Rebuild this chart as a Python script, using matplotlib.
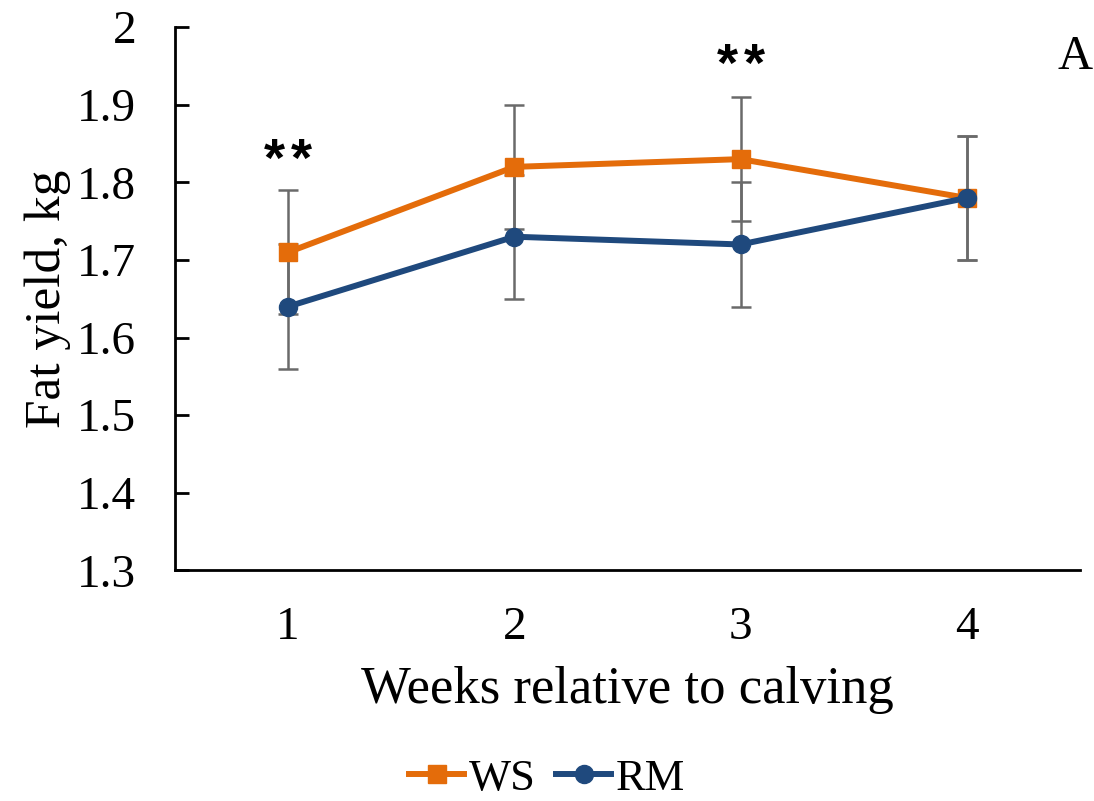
import numpy as np
import matplotlib
matplotlib.use("Agg")
import matplotlib.pyplot as plt

#-------------------------------------------------------------
# data
#-------------------------------------------------------------
weeks = [1, 2, 3, 4]
ws_fat = [1.71, 1.82, 1.83, 1.78]
ws_err = [0.08, 0.08, 0.08, 0.08]
rm_fat = [1.64, 1.73, 1.72, 1.78]
rm_err = [0.08, 0.08, 0.08, 0.08]
y_ticks = [1.3, 1.4, 1.5, 1.6, 1.7, 1.8, 1.9, 2.0]
y_labels = ["1.3", "1.4", "1.5", "1.6", "1.7", "1.8", "1.9", "2"]
signif = [(1, 1.826, "**"), (3, 1.949, "**")]

plt.rcParams["font.family"] = ["Liberation Serif", "DejaVu Serif"]

orange = "#E46C0A"
blue = "#1F497D"
grey = "#6A6A6A"

fig = plt.figure(figsize=(10.94, 8.01), dpi=100)
ax = fig.add_axes([0.16, 0.288, 0.827, 0.678])

ax.errorbar(weeks, ws_fat, yerr=ws_err, fmt="none", ecolor=grey,
            elinewidth=1.8, capsize=7, capthick=1.8, zorder=2)
ax.errorbar(weeks, rm_fat, yerr=rm_err, fmt="none", ecolor=grey,
            elinewidth=1.8, capsize=7, capthick=1.8, zorder=2)
ax.plot(weeks, ws_fat, color=orange, lw=4.3, marker="s", ms=13,
        label="WS", zorder=3)
ax.plot(weeks, rm_fat, color=blue, lw=4.3, marker="o", ms=13,
        label="RM", zorder=4)

# significance marks, the two stars drawn a little apart
for x, y, s in signif:
    for k, ch in enumerate(s):
        dx = (k - (len(s) - 1) / 2) * 19.5
        ax.annotate(ch, (x, y), xytext=(dx, 0), textcoords="offset points",
                    ha="center", va="center", fontsize=39,
                    family="Liberation Sans", fontweight="bold")
ax.text(1.0144, 1.961, "A", transform=ax.get_yaxis_transform(),
        ha="right", va="center", fontsize=35)

ax.set_xlim(0.5, 4.5)
ax.set_ylim(1.3, 2.0)
ax.set_xticks(weeks)
ax.set_xticklabels([str(w) for w in weeks])
ax.set_yticks(y_ticks)
ax.set_yticklabels(y_labels)
ax.tick_params(axis="y", direction="in", length=10, width=2,
               labelsize=34, pad=28)
ax.tick_params(axis="x", length=0, labelsize=34, pad=26)
for side in ["top", "right"]:
    ax.spines[side].set_visible(False)
for side in ["left", "bottom"]:
    ax.spines[side].set_linewidth(2)

ax.set_xlabel("Weeks relative to calving", fontsize=38, labelpad=12)
ax.set_ylabel("Fat yield, kg", fontsize=37, labelpad=4)

fig.legend(loc="lower center", bbox_to_anchor=(0.5, -0.047), ncol=2,
           frameon=False, fontsize=32, handlelength=1.25,
           handletextpad=0.1, columnspacing=0.45)

fig.savefig("out.png", dpi=100)
